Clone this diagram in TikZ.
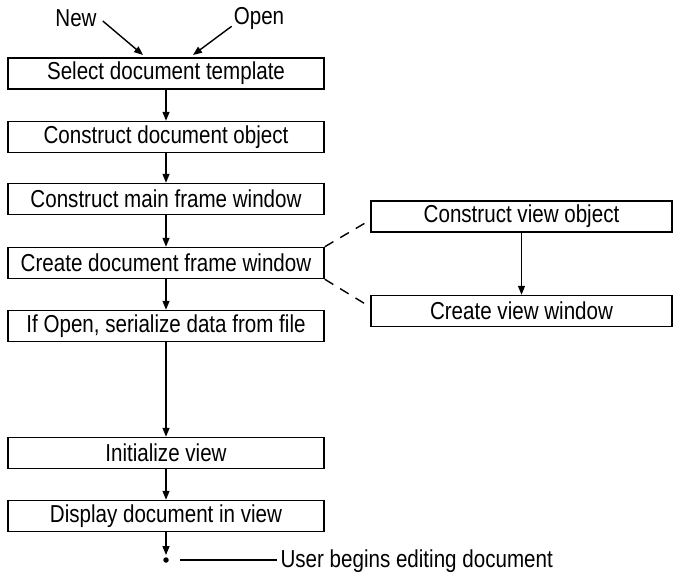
\documentclass[tikz,border=0pt]{standalone}
\usepackage{fontspec}
\setmainfont{Liberation Sans}[FakeStretch=0.84]
\usetikzlibrary{arrows.meta}

\begin{document}
\begin{tikzpicture}[x=1pt, y=-1pt, font=\fontsize{24.5}{28}\selectfont,
    box/.style={draw, line width=1.5pt, minimum width=316pt, minimum height=31pt, inner sep=0pt},
    rbox/.style={box, minimum width=301pt},
    flow/.style={line width=1.4pt, -{Triangle[length=9pt,width=7pt]}},
    link/.style={line width=1.4pt, dash pattern=on 10pt off 8pt}]
    \useasboundingbox (0,0) rectangle (679,581);

    % Start commands
    \node[inner sep=2pt] (new)  at (76,18)  {New};
    \node[inner sep=2pt] (open) at (259,18) {Open};
    \coordinate (newend)  at (143,55);
    \coordinate (openend) at (193,55);

    % Main column
    \node[box] (sel)  at (166,73.5) {Select document template};
    \node[box] (cdoc) at (166,137)  {Construct document object};
    \node[box] (mfw)  at (166,199)  {Construct main frame window};
    \node[box] (dfw)  at (166,263)  {Create document frame window};
    \node[box] (ser)  at (166,326)  {If Open, serialize data from file};
    \node[box] (init) at (166,453)  {Initialize view};
    \node[box] (disp) at (166,516)  {Display document in view};

    % View side
    \node[rbox] (cvo) at (521.5,216.5) {Construct view object};
    \node[rbox] (cvw) at (521.5,311)   {Create view window};

    % End point
    \node[circle, fill, inner sep=0pt, minimum size=5.5pt] (dot) at (166,560) {};
    \node[anchor=west] (user) at (277,561) {User begins editing document};

    \draw[flow] ([xshift=4pt,yshift=-3pt]new.east) -- (newend);
    \draw[flow] ([yshift=5pt]open.south west) -- (openend);

    \draw[flow] (sel) -- (cdoc);
    \draw[flow] (cdoc) -- (mfw);
    \draw[flow] (mfw) -- (dfw);
    \draw[flow] (dfw) -- (ser);
    \draw[flow] (ser) -- (init);
    \draw[flow] (init) -- (disp);
    \draw[flow, shorten >=2pt] (disp) -- (dot);
    \draw[flow] (cvo) -- (cvw);

    % Dashed links
    \draw[link] (dfw.north east) -- ([yshift=-3.5pt]cvo.west);
    \draw[link] (dfw.south east) -- ([yshift=4pt]cvw.west);

    \draw[line width=1.4pt, shorten <=11pt] (dot) -- (user.west |- dot);
\end{tikzpicture}
\end{document}
